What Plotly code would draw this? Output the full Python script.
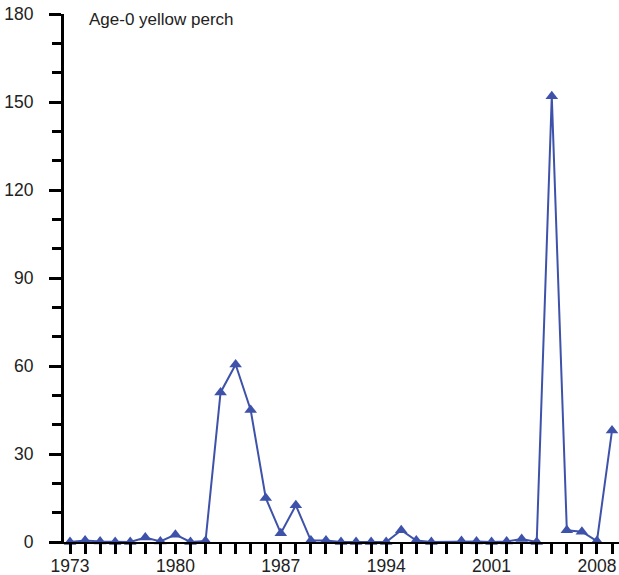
import plotly.graph_objects as go

# Age-0 yellow perch catch per year (1998 not sampled)
years = [1973, 1974, 1975, 1976, 1977, 1978, 1979, 1980, 1981, 1982,
         1983, 1984, 1985, 1986, 1987, 1988, 1989, 1990, 1991, 1992,
         1993, 1994, 1995, 1996, 1997, 1999, 2000, 2001, 2002, 2003,
         2004, 2005, 2006, 2007, 2008, 2009]
catch = [0.0, 0.5, 0.2, 0.0, 0.0, 1.5, 0.2, 2.5, 0.0, 0.3,
         51.0, 60.5, 45.0, 15.0, 3.0, 12.5, 0.5, 0.5, 0.0, 0.0,
         0.0, 0.0, 4.0, 0.5, 0.0, 0.3, 0.2, 0.0, 0.2, 1.0,
         0.0, 152.0, 4.0, 3.5, 0.3, 38.0]

x_labels = [1973, 1980, 1987, 1994, 2001, 2008]
y_labels = [0, 30, 60, 90, 120, 150, 180]

blue = "rgb(62,82,170)"
font = "Liberation Sans, Arial, sans-serif"

W, H = 619, 575
L, R, T, B = 64, 0, 14, 33

fig = go.Figure()
fig.add_trace(go.Scatter(
    x=years, y=catch, mode="lines+markers",
    line=dict(color=blue, width=2),
    marker=dict(symbol="triangle-up", size=11, color=blue),
    cliponaxis=False, showlegend=False,
))

fig.update_layout(
    width=W, height=H,
    margin=dict(l=L, r=R, t=T, b=B, autoexpand=False),
    paper_bgcolor="white", plot_bgcolor="white",
    font=dict(family=font, size=17, color="#222"),
    annotations=[dict(
        text="Age-0 yellow perch",
        x=(87 - L) / (W - L - R), y=1 - (19 - T) / (H - T - B),
        xref="paper", yref="paper", xanchor="left", yanchor="middle",
        showarrow=False, font=dict(family=font, size=17, color="#222"),
    )],
)

# yearly ticks are drawn as minor ticks; the labelled major ticks are kept
# shorter so the year labels sit close under the axis
fig.update_xaxes(
    range=[1972.60, 2009.465], automargin=False,
    tickmode="array", tickvals=x_labels, ticktext=[str(v) for v in x_labels],
    ticks="outside", ticklen=7, tickwidth=3, tickcolor="black",
    minor=dict(tickmode="linear", tick0=1973, dtick=1, ticks="outside",
               ticklen=10, tickwidth=3, tickcolor="black"),
    showline=True, linecolor="black", linewidth=2,
    showgrid=False, zeroline=False,
    tickfont=dict(size=17.5),
)
fig.update_yaxes(
    range=[0, 180], automargin=False,
    tickmode="array", tickvals=y_labels, ticktext=[str(v) for v in y_labels],
    ticks="outside", ticklen=12, tickwidth=3, tickcolor="black",
    minor=dict(tickmode="linear", tick0=0, dtick=10, ticks="outside",
               ticklen=9, tickwidth=3, tickcolor="black"),
    showline=True, linecolor="black", linewidth=3,
    showgrid=False, zeroline=False, ticklabelstandoff=12,
    tickfont=dict(size=17.5),
)

fig.write_html("out.html")
